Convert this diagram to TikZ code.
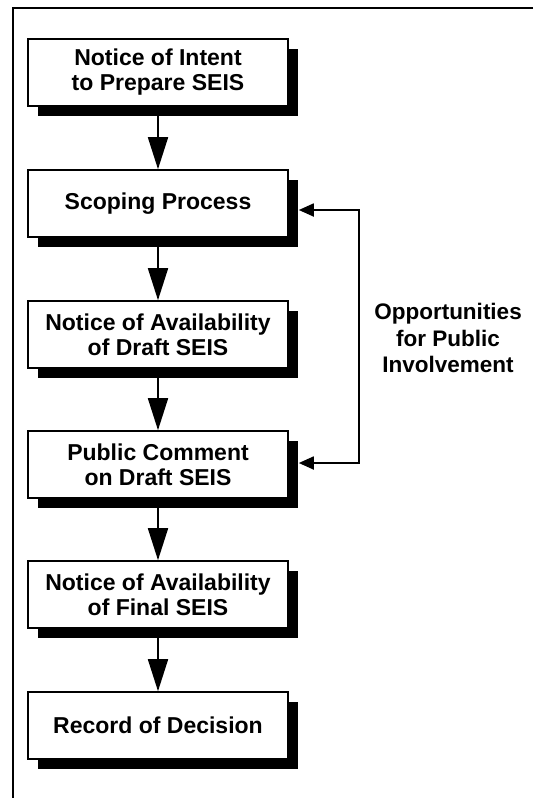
\documentclass[tikz,border=0pt]{standalone}
\usepackage{fontspec}
\setmainfont{Liberation Sans}
\usetikzlibrary{arrows.meta,shadows}
\begin{document}
\begin{tikzpicture}[x=1pt,y=-1pt,
  stepbox/.style={draw=black, line width=1.6pt, fill=white, minimum width=260pt,
    minimum height=67pt, inner sep=0pt, align=center,
    font=\fontsize{23}{25}\selectfont\bfseries,
    drop shadow={shadow xshift=10pt, shadow yshift=-10pt, fill=black, opacity=1}},
  flow/.style={line width=1.8pt, -{Triangle[width=20pt,length=32pt]}},
  side/.style={line width=1.8pt, {Triangle[width=13pt,length=15pt]}-{Triangle[width=13pt,length=15pt]}},
  lbl/.style={align=center, inner sep=0pt, font=\fontsize{22.5}{26.5}\selectfont\bfseries}
]
\useasboundingbox (0,0) rectangle (533,798);
% frame
\draw[line width=1.5pt] (533,8) -- (13,8) -- (13,798);

\node[stepbox] (b1) at (158,72.5) {Notice of Intent\\to Prepare SEIS};
\node[stepbox] (b2) at (158,203.5) {Scoping Process};
\node[stepbox] (b3) at (158,334.5) {Notice of Availability\\of Draft SEIS};
\node[stepbox] (b4) at (158,464.5) {Public Comment\\on Draft SEIS};
\node[stepbox] (b5) at (158,594.5) {Notice of Availability\\of Final SEIS};
\node[stepbox] (b6) at (158,725.5) {Record of Decision};

\draw[flow] (b1.south) -- (b2.north);
\draw[flow] (b2.south) -- (b3.north);
\draw[flow] (b3.south) -- (b4.north);
\draw[flow] (b4.south) -- (b5.north);
\draw[flow] (b5.south) -- (b6.north);

\draw[side] ([xshift=10pt,yshift=-6.5pt]b2.east) -- ++(60,0) |- ([xshift=10pt,yshift=1.5pt]b4.east);

\node[lbl] (opp) at (448,338) {Opportunities\\for Public\\Involvement};
\end{tikzpicture}
\end{document}
